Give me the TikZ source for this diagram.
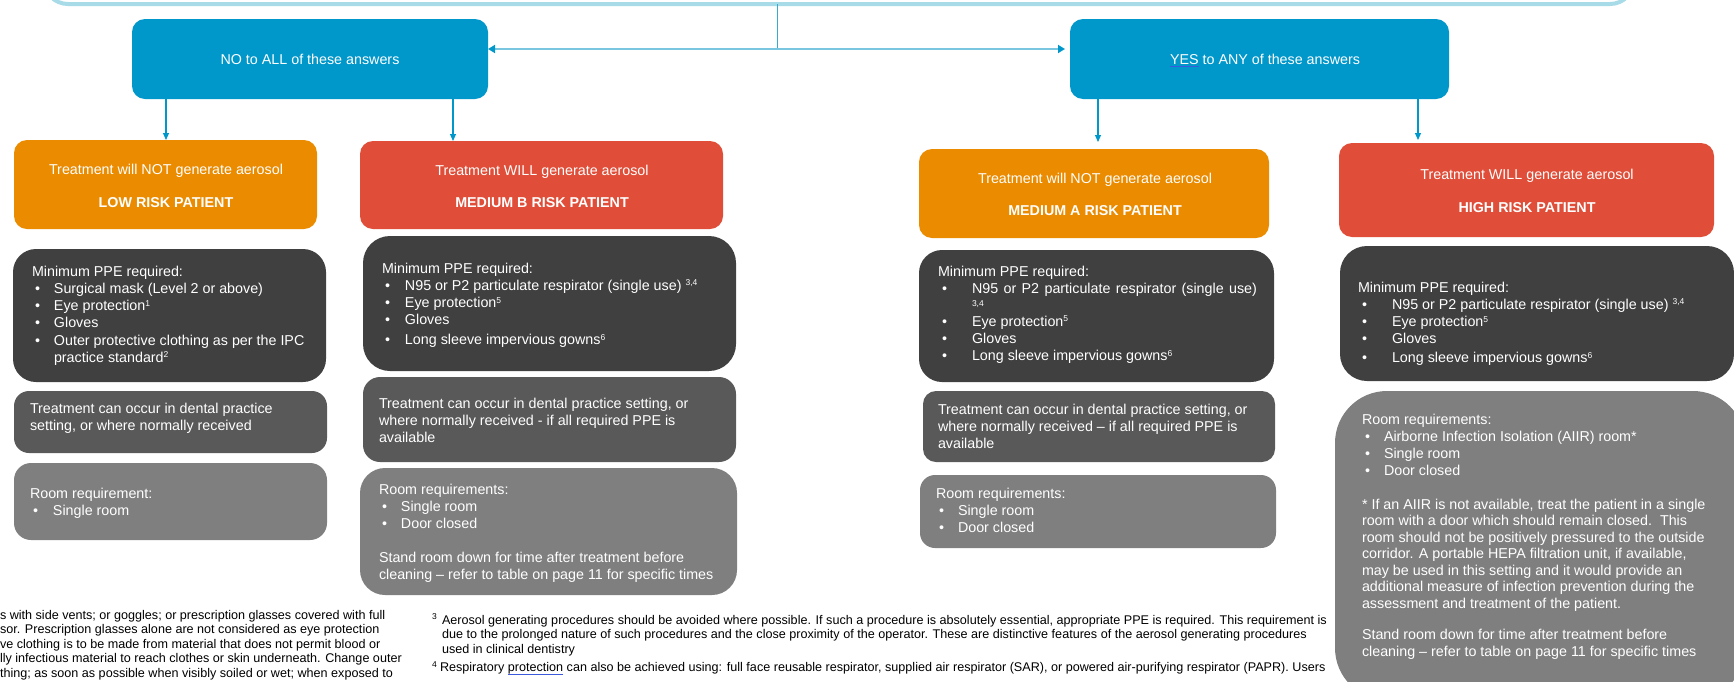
\documentclass[tikz,border=0pt]{standalone}
\usepackage{fontspec}
\setmainfont{Liberation Sans}
\usetikzlibrary{arrows.meta}
\definecolor{cblue}{RGB}{0,151,203}
\definecolor{corange}{RGB}{234,139,0}
\definecolor{cred}{RGB}{224,78,57}
\definecolor{cdark}{RGB}{64,64,64}
\definecolor{cmid}{RGB}{89,89,89}
\definecolor{clight}{RGB}{127,127,127}
\definecolor{cbanner}{RGB}{167,219,232}
\definecolor{chline}{RGB}{120,198,224}
\definecolor{cspell}{RGB}{60,90,220}
\newcommand\sps[1]{\raisebox{4.6pt}{\fontsize{8.5}{8.5}\selectfont #1}}
\newcommand\bl[3]{\hspace*{#1pt}\makebox[#2pt][l]{\textbullet}#3}
\newcommand\spellu[1]{\setbox0\hbox{#1}\rlap{\color{cspell}\rule[-2.6pt]{\wd0}{0.9pt}}#1}
\newcommand\ftxt{\fontsize{14.3}{17.3}\selectfont}
\newcommand\ntxt{\fontsize{12.6}{14.6}\selectfont}
\newcommand\rbox[6]{\node[#2,minimum width={#5pt-#3pt},minimum height={#6pt-#4pt}] (#1) at (#3,#4) {};}
\tikzset{
  panel/.style={rectangle, inner sep=0pt, outer sep=0pt, anchor=north west, draw=none},
  topbox/.style={panel, fill=cblue, rounded corners=13pt},
  obox/.style={panel, fill=corange, rounded corners=13pt},
  redbox/.style={panel, fill=cred, rounded corners=13pt},
  ppe/.style={panel, fill=cdark, rounded corners=#1}, ppe/.default=24pt,
  treat/.style={panel, fill=cmid, rounded corners=#1}, treat/.default=15pt,
  room/.style={panel, fill=clight, rounded corners=#1}, room/.default=18pt,
  wtxt/.style={inner sep=0pt, outer sep=0pt, anchor=base west, text=white, font=\ftxt},
  ctxt/.style={inner sep=0pt, outer sep=0pt, anchor=base, text=white, font=\ftxt},
  btxt/.style={ctxt, font=\ftxt\bfseries},
  ftn/.style={inner sep=0pt, outer sep=0pt, anchor=base west, text=black, font=\ntxt},
  darr/.style={draw=cblue, line width=1.1pt, -{Triangle[length=7pt,width=6pt]}},
  hconn/.style={draw=chline, line width=2.4pt, -{Triangle[length=7pt,width=8pt,color=cblue,fill=cblue]}},
  vline/.style={draw=cblue!80, line width=0.9pt}
}
\begin{document}
\begin{tikzpicture}[x=1pt,y=-1pt]
\useasboundingbox (0,0) rectangle (1734,681);
\clip (0,0) rectangle (1734,681);
% banner of the previous step
\node[panel, anchor=south west, draw=cbanner, line width=4pt, rounded corners=24pt, minimum width=1590pt, minimum height=120pt] (banner) at (44,4) {};
% decision boxes
\rbox{no}{topbox}{132}{19}{488}{99}
\rbox{yes}{topbox}{1070}{19}{1449}{99}
\node[ctxt] (noT) at (310,64) {NO to ALL of these answers};
\node[ctxt] (yesT) at (1265,64) {\spellu{YES} to ANY of these answers};
% risk boxes
\rbox{low}{obox}{14}{140}{317}{229}
\rbox{medb}{redbox}{360}{141}{723}{229}
\rbox{meda}{obox}{919}{149}{1269}{238}
\rbox{high}{redbox}{1339}{143}{1714}{237}
\node[ctxt] (lowT1) at (166,174) {Treatment will NOT generate aerosol};
\node[btxt] (lowT2) at (166,207) {LOW RISK PATIENT};
\node[ctxt] (medbT1) at (542,175) {Treatment WILL generate aerosol};
\node[btxt] (medbT2) at (542,207) {MEDIUM B RISK PATIENT};
\node[ctxt] (medaT1) at (1095,183) {Treatment will NOT generate aerosol};
\node[btxt] (medaT2) at (1095,215) {MEDIUM A RISK PATIENT};
\node[ctxt] (highT1) at (1527,179) {Treatment WILL generate aerosol};
\node[btxt] (highT2) at (1527,212) {HIGH RISK PATIENT};
% connectors
\coordinate (vx) at (777,49);
\draw[vline] (vx |- banner.south) -- (vx);
\draw[hconn] (vx) -- (no.east |- vx);
\draw[hconn, shorten >=5pt] (vx) -- (yes.west |- vx);
\coordinate (c1) at (166,0);
\coordinate (c2) at (453,0);
\coordinate (c3) at (1098,0);
\coordinate (c4) at (1418,0);
\draw[darr] (no.south -| c1) -- (low.north -| c1);
\draw[darr] (no.south -| c2) -- (medb.north -| c2);
\draw[darr, shorten >=7pt] (yes.south -| c3) -- (meda.north -| c3);
\draw[darr, shorten >=3pt] (yes.south -| c4) -- (high.north -| c4);
% LOW column
\rbox{lowppe}{ppe=23pt}{13}{249}{326}{382}
\rbox{lowtreat}{treat=15pt}{14}{391}{327}{453}
\rbox{lowroom}{room=17pt}{14}{463}{327}{540}
\node[wtxt] (lowppeT) at (32,276) {\parbox[t]{400pt}{\ftxt Minimum PPE required:\\
\bl{3}{19}{Surgical mask (Level 2 or above)}\\
\bl{3}{19}{Eye protection\sps{1}}\\
\bl{3}{19}{Gloves}\\
\bl{3}{19}{Outer protective clothing as per the IPC}\\
\hspace*{22pt}practice standard\sps{2}}};
\node[wtxt] (lowtreatT) at (30,413) {\parbox[t]{400pt}{\ftxt Treatment can occur in dental practice\\
setting, or where normally received}};
\node[wtxt] (lowroomT) at (30,498) {\parbox[t]{400pt}{\ftxt Room requirement:\\
\bl{3}{20}{Single room}}};
% MEDIUM B column
\rbox{medbppe}{ppe=27pt}{363}{236}{736}{371}
\rbox{medbtreat}{treat=17pt}{363}{377}{736}{462}
\rbox{medbroom}{room=25pt}{360}{468}{737}{595}
\node[wtxt] (medbppeT) at (382,273) {\parbox[t]{400pt}{\ftxt Minimum PPE required:\\
\bl{3}{20}{N95 or P2 particulate respirator (single use) \sps{3,4}}\\
\bl{3}{20}{Eye protection\sps{5}}\\
\bl{3}{20}{Gloves}\\[2.5pt]
\bl{3}{20}{Long sleeve impervious gowns\sps{6}}}};
\node[wtxt] (medbtreatT) at (379,408) {\parbox[t]{400pt}{\ftxt Treatment can occur in dental practice setting, or\\
where normally received - if all required PPE is\\
available}};
\node[wtxt] (medbroomT) at (379,494) {\parbox[t]{400pt}{\ftxt Room requirements:\\
\bl{3}{19}{Single room}\\
\bl{3}{19}{Door closed}\\[16.1pt]
Stand room down for time after treatment before\\
cleaning -- refer to table on page 11 for specific times}};
% MEDIUM A column
\rbox{medappe}{ppe=23pt}{919}{250}{1274}{382}
\rbox{medatreat}{treat=13pt}{923}{391}{1275}{462}
\rbox{medaroom}{room=15pt}{920}{475}{1276}{548}
\node[wtxt] (medappeT) at (938,276) {\parbox[t]{400pt}{\ftxt Minimum PPE required:\\
\bl{4}{30}{\makebox[285pt][s]{N95 or P2 particulate respirator (single use)}}\\[-4.3pt]
\hspace*{34pt}{\fontsize{8.5}{8.5}\selectfont 3,4}\\[2.7pt]
\bl{4}{30}{Eye protection\sps{5}}\\
\bl{4}{30}{Gloves}\\
\bl{4}{30}{Long sleeve impervious gowns\sps{6}}}};
\node[wtxt] (medatreatT) at (938,414) {\parbox[t]{400pt}{\ftxt Treatment can occur in dental practice setting, or\\
where normally received -- if all required PPE is\\
available}};
\node[wtxt] (medaroomT) at (936,498) {\parbox[t]{400pt}{\ftxt Room requirements:\\
\bl{3}{19}{Single room}\\
\bl{3}{19}{Door closed}}};
% HIGH column
\rbox{highppe}{ppe=27pt}{1340}{246}{1734}{381}
\rbox{highroom}{room=52pt}{1335}{391}{1745}{700}
\node[wtxt] (highppeT) at (1358,292) {\parbox[t]{400pt}{\ftxt Minimum PPE required:\\
\bl{4}{30}{N95 or P2 particulate respirator (single use) \sps{3,4}}\\
\bl{4}{30}{Eye protection\sps{5}}\\
\bl{4}{30}{Gloves}\\[1.5pt]
\bl{4}{30}{Long sleeve impervious gowns\sps{6}}}};
\node[wtxt] (highroomT) at (1362,424) {\parbox[t]{400pt}{\ftxt Room requirements:\\
\bl{3}{19}{Airborne Infection Isolation (AIIR) room*}\\
\bl{3}{19}{Single room}\\
\bl{3}{19}{Door closed}}};
\node[wtxt] (highnoteT) at (1362,509) {\parbox[t]{400pt}{\fontsize{14.3}{16.5}\selectfont * If an AIIR is not available, treat the patient in a single\\
room with a door which should remain closed.\ \ This\\
room should not be positively pressured to the outside\\
corridor. A portable HEPA filtration unit, if available,\\
may be used in this setting and it would provide an\\
additional measure of infection prevention during the\\
assessment and treatment of the patient.}};
\node[wtxt] (highstandT) at (1362,639) {\parbox[t]{400pt}{\fontsize{14.3}{17}\selectfont Stand room down for time after treatment before\\
cleaning -- refer to table on page 11 for specific times}};
% footnotes
\node[ftn] (fnL) at (0,619) {\parbox[t]{440pt}{\ntxt s with side vents; or goggles; or prescription glasses covered with full\\
sor. Prescription glasses alone are not considered as eye protection\\
ve clothing is to be made from material that does not permit blood or\\
lly infectious material to reach clothes or skin underneath. Change outer\\
thing; as soon as possible when visibly soiled or wet; when exposed to}};
\node[ftn] (fnR) at (432,624) {\parbox[t]{920pt}{\ntxt \makebox[10pt][l]{\sps{3}}Aerosol generating procedures should be avoided where possible. If such a procedure is absolutely essential, appropriate PPE is required. This requirement is\\
\hspace*{10pt}due to the prolonged nature of such procedures and the close proximity of the operator. These are distinctive features of the aerosol generating procedures\\
\hspace*{10pt}used in clinical dentistry\\[4pt]
\makebox[8pt][l]{\sps{4}}Respiratory \spellu{protection} can also be achieved using: full face reusable respirator, supplied air respirator (SAR), or powered air-purifying respirator (PAPR). Users}};
\end{tikzpicture}
\end{document}
